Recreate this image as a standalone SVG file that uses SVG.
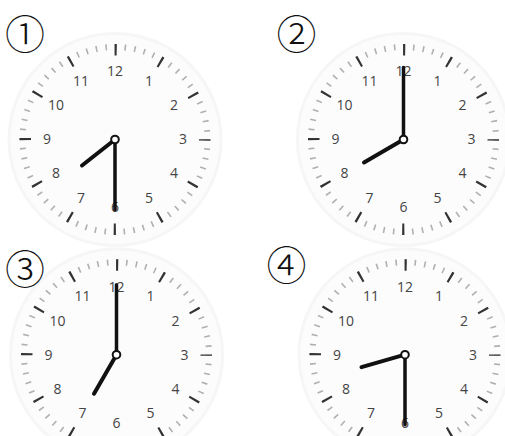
<svg xmlns="http://www.w3.org/2000/svg" xmlns:xlink="http://www.w3.org/1999/xlink" width="505" height="436" viewBox="0 0 505 436">
<style>
.num{font-family:"Open Sans","Noto Sans",sans-serif;font-size:14px;fill:#444;text-anchor:middle}
.lbl{font-family:"Noto Sans CJK JP","DejaVu Sans",serif;font-size:40px;font-weight:300;fill:#111;text-anchor:middle}
.hand{stroke:#111;stroke-width:3.5;stroke-linecap:round}
.hour{stroke:#111;stroke-width:4;stroke-linecap:round}
.pin{fill:#fff;stroke:#111;stroke-width:2}
</style>
<defs>
<g id="dial">
<circle r="106" fill="#fcfcfc" stroke="#f6f6f6" stroke-width="3"/>
<circle r="92.5" fill="none" stroke="#b0b0b0" stroke-width="6" stroke-dasharray="1.6 8.087" stroke-dashoffset="0.8"/>
<circle r="89.75" fill="none" stroke="#333" stroke-width="11.5" stroke-dasharray="2.2 44.79" stroke-dashoffset="1.1"/>
<text class="num" x="34" y="-58.9" dy="0.35em">1</text>
<text class="num" x="58.9" y="-34" dy="0.35em">2</text>
<text class="num" x="68" y="0" dy="0.35em">3</text>
<text class="num" x="58.9" y="34" dy="0.35em">4</text>
<text class="num" x="34" y="58.9" dy="0.35em">5</text>
<text class="num" x="0" y="68" dy="0.35em">6</text>
<text class="num" x="-34" y="58.9" dy="0.35em">7</text>
<text class="num" x="-58.9" y="34" dy="0.35em">8</text>
<text class="num" x="-68" y="0" dy="0.35em">9</text>
<text class="num" x="-58.9" y="-34" dy="0.35em">10</text>
<text class="num" x="-34" y="-58.9" dy="0.35em">11</text>
<text class="num" x="0" y="-68" dy="0.35em">12</text>
</g>
</defs>
<rect width="505" height="436" fill="#fff"/>
<g id="clock1" transform="translate(115,139.5)">
<use href="#dial"/>
<line class="hand" x1="0" y1="0" x2="0" y2="70"/>
<line class="hour" x1="0" y1="0" x2="-33" y2="26"/>
<circle class="pin" r="3.8"/>
</g>
<g id="clock2" transform="translate(403.5,139.5)">
<use href="#dial"/>
<line class="hand" x1="0" y1="0" x2="0" y2="-72"/>
<line class="hour" x1="0" y1="0" x2="-39.5" y2="23"/>
<circle class="pin" r="3.8"/>
</g>
<g id="clock3" transform="translate(116.5,354.7)">
<use href="#dial"/>
<line class="hand" x1="0" y1="0" x2="0" y2="-70"/>
<line class="hour" x1="0" y1="0" x2="-22.5" y2="39"/>
<circle class="pin" r="3.8"/>
</g>
<g id="clock4" transform="translate(405,354.7)">
<use href="#dial"/>
<line class="hand" x1="0" y1="0" x2="0" y2="70"/>
<line class="hour" x1="0" y1="0" x2="-43.5" y2="12.5"/>
<circle class="pin" r="3.8"/>
</g>
<g id="labels">
<text class="lbl" x="25" y="49">①</text>
<text class="lbl" x="296.5" y="48.5">②</text>
<text class="lbl" x="25" y="283.5">③</text>
<text class="lbl" x="286.5" y="280">④</text>
</g>
</svg>
